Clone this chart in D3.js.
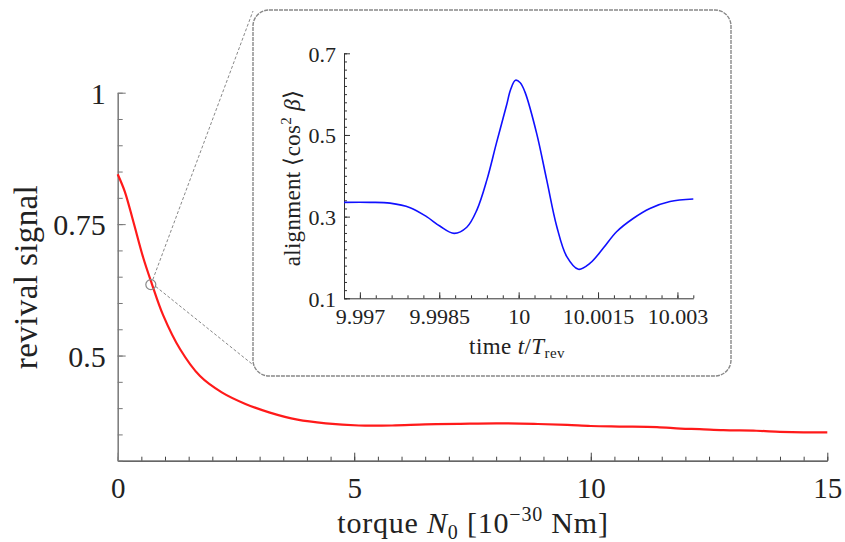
<!DOCTYPE html>
<html><head><meta charset="utf-8">
<script src="https://cdn.jsdelivr.net/npm/d3@7"></script>
<style>
html,body{margin:0;padding:0;background:#fff;}
text{font-family:"Liberation Serif","Times New Roman",serif;fill:#222;}
</style></head>
<body>
<svg id="c" width="845" height="542"></svg>
<script>
// Main chart data
const torque = [0,0.15,0.33,0.54,0.72,0.96,1.32,1.74,2.2,2.7,3.2,3.8,4.4,5.1,5.8,6.5,7.2,8.0,8.8,9.5,10.0,10.6,11.4,11.9,12.3,12.8,13.5,14.0,14.5,15];
const revival = [0.845,0.812,0.755,0.686,0.637,0.577,0.512,0.461,0.430,0.408,0.392,0.378,0.371,0.367,0.367,0.369,0.370,0.371,0.370,0.368,0.366,0.365,0.364,0.361,0.360,0.358,0.357,0.355,0.354,0.354];
const zoomPoint = [0.7, 0.635];
const mainXTicks = [0,5,10,15];
const mainYTicks = [0.5,0.75,1];
const mainYTickLabels = ["0.5","0.75","1"];

// Inset data
const timeVals = [9.9967,9.9972,9.99757,9.99795,9.99826,9.99851,9.99878,9.99902,9.99921,9.99940,9.99958,9.99977,9.99985,9.99994,10.00003,10.00012,10.00034,10.00053,10.00072,10.00091,10.00113,10.00135,10.0016,10.00185,10.00217,10.00248,10.00286,10.0033];
const alignVals = [0.335,0.335,0.333,0.322,0.300,0.277,0.259,0.274,0.316,0.390,0.480,0.572,0.612,0.634,0.628,0.605,0.504,0.390,0.276,0.202,0.171,0.186,0.223,0.263,0.296,0.320,0.337,0.343];
const insetXTicks = [9.997,9.9985,10,10.0015,10.003];
const insetXTickLabels = ["9.997","9.9985","10","10.0015","10.003"];
const insetYTicks = [0.1,0.3,0.5,0.7];

const svg = d3.select("#c");

// ---------- main chart ----------
const x = d3.scaleLinear([0,15],[117.7,827.3]);
const y = d3.scaleLinear([0.3,1],[460.7,92.7]);

const xMinor = d3.range(0,31).map(i=>i*0.5);
const yMinor = d3.range(0,15).map(i=>+(0.3+i*0.05).toFixed(2));

const gx = svg.append("g").attr("transform","translate(0,460.7)");
gx.call(d3.axisBottom(x).tickValues(xMinor).tickSizeInner(-4).tickSizeOuter(0).tickFormat(""));
gx.selectAll("line").attr("stroke","#444");
gx.select(".domain").attr("stroke","#333").attr("stroke-width",1.3);
const gx2 = svg.append("g").attr("transform","translate(0,460.7)");
gx2.call(d3.axisBottom(x).tickValues(mainXTicks).tickSizeInner(-8).tickSizeOuter(0).tickPadding(18).tickFormat(d3.format("d")));
gx2.select(".domain").remove();
gx2.selectAll("line").attr("stroke","#444");
gx2.selectAll("text").attr("font-size",29).attr("font-family","Liberation Serif").attr("fill","#222").attr("dy","0.68em");

const gy = svg.append("g").attr("transform","translate(117.7,0)");
gy.call(d3.axisLeft(y).tickValues(yMinor).tickSizeInner(-5).tickSizeOuter(0).tickFormat(""));
gy.selectAll("line").attr("stroke","#777");
gy.select(".domain").attr("stroke","#808080").attr("stroke-width",1.6);
const gy2 = svg.append("g").attr("transform","translate(117.7,0)");
gy2.call(d3.axisLeft(y).tickValues(mainYTicks).tickSizeInner(-8).tickSizeOuter(0).tickPadding(12).tickFormat((d,i)=>mainYTickLabels[i]));
gy2.select(".domain").remove();
gy2.selectAll("line").attr("stroke","#777");
gy2.selectAll("text").attr("font-size",30).attr("font-family","Liberation Serif").attr("fill","#222").attr("dy","0.36em");

// red curve
const line = d3.line().x((d,i)=>x(torque[i])).y(d=>y(d)).curve(d3.curveCatmullRom.alpha(0.5));
svg.append("path").attr("d",line(revival)).attr("fill","none").attr("stroke","#ff1a1a").attr("stroke-width",2.2);

// axis titles
const xt = svg.append("text").attr("x",473).attr("y",533).attr("text-anchor","middle").attr("font-size",30).attr("letter-spacing",0.8);
xt.append("tspan").text("torque ");
xt.append("tspan").attr("font-style","italic").text("N");
xt.append("tspan").attr("font-size",20).attr("dy",6).text("0");
xt.append("tspan").attr("dy",-6).text(" [10");
xt.append("tspan").attr("font-size",20).attr("dy",-12).text("−30");
xt.append("tspan").attr("dy",12).text(" Nm]");

svg.append("text").attr("transform","translate(37,277) rotate(-90)").attr("text-anchor","middle").attr("font-size",33).attr("letter-spacing",0.4).text("revival signal");

// ---------- zoom indicator ----------
const box = {x0:253, y0:10, x1:731, y1:376};
const cx = x(zoomPoint[0]), cy = y(zoomPoint[1]);
svg.append("line").attr("x1",cx+2).attr("y1",cy-5).attr("x2",box.x0).attr("y2",box.y0+1)
  .attr("stroke","#888").attr("stroke-width",1).attr("stroke-dasharray","3,2");
svg.append("line").attr("x1",cx+5).attr("y1",cy+2).attr("x2",box.x0+4).attr("y2",box.y1-8)
  .attr("stroke","#888").attr("stroke-width",1).attr("stroke-dasharray","3,2");
svg.append("circle").attr("cx",cx).attr("cy",cy).attr("r",5).attr("fill","none").attr("stroke","#888").attr("stroke-width",1.2);

// inset box
svg.append("rect").attr("x",box.x0).attr("y",box.y0).attr("width",box.x1-box.x0).attr("height",box.y1-box.y0)
  .attr("rx",16).attr("ry",16).attr("fill","#fff").attr("stroke","#888").attr("stroke-width",1.4).attr("stroke-dasharray","4,1");

// ---------- inset ----------
const xi = d3.scaleLinear([9.9967,10.0033],[344,693.3]);
const yi = d3.scaleLinear([0.1,0.7],[298.3,53.3]);
const xiMinor = d3.range(0,23).map(i=>+(9.9967+i*0.0003).toFixed(4));
const yiMinor = d3.range(0,31).map(i=>+(0.1+i*0.02).toFixed(2));

const ix = svg.append("g").attr("transform","translate(0,298.3)");
ix.call(d3.axisBottom(xi).tickValues(xiMinor).tickSizeInner(-3).tickSizeOuter(0).tickFormat(""));
ix.selectAll("line").attr("stroke","#333");
ix.select(".domain").attr("stroke","#333").attr("stroke-width",1);
const ix2 = svg.append("g").attr("transform","translate(0,298.3)");
ix2.call(d3.axisBottom(xi).tickValues(insetXTicks).tickSizeInner(-6).tickSizeOuter(0).tickPadding(10).tickFormat((d,i)=>insetXTickLabels[i]));
ix2.select(".domain").remove();
ix2.selectAll("line").attr("stroke","#333");
ix2.selectAll("text").attr("font-size",22).attr("font-family","Liberation Serif").attr("fill","#222").attr("dy","0.7em");

const iy = svg.append("g").attr("transform","translate(344,0)");
iy.call(d3.axisLeft(yi).tickValues(yiMinor).tickSizeInner(-3).tickSizeOuter(0).tickFormat(""));
iy.selectAll("line").attr("stroke","#333");
iy.select(".domain").attr("stroke","#333").attr("stroke-width",1);
const iy2 = svg.append("g").attr("transform","translate(344,0)");
iy2.call(d3.axisLeft(yi).tickValues(insetYTicks).tickSizeInner(-6).tickSizeOuter(0).tickPadding(8).tickFormat(d3.format(".1f")));
iy2.select(".domain").remove();
iy2.selectAll("line").attr("stroke","#333");
iy2.selectAll("text").attr("font-size",22).attr("font-family","Liberation Serif").attr("fill","#222").attr("dy","0.36em");

const lineI = d3.line().x((d,i)=>xi(timeVals[i])).y(d=>yi(d)).curve(d3.curveCatmullRom.alpha(0.5));
svg.append("path").attr("d",lineI(alignVals)).attr("fill","none").attr("stroke","#1010ff").attr("stroke-width",1.6);

const ixt = svg.append("text").attr("x",517).attr("y",354).attr("text-anchor","middle").attr("font-size",23).attr("letter-spacing",0.4);
ixt.append("tspan").text("time ");
ixt.append("tspan").attr("font-style","italic").text("t");
ixt.append("tspan").text("/");
ixt.append("tspan").attr("font-style","italic").text("T");
ixt.append("tspan").attr("font-size",15).attr("dy",4).text("rev");

const iyt = svg.append("text").attr("transform","translate(300,178) rotate(-90)").attr("text-anchor","middle").attr("font-size",23).attr("letter-spacing",0.3);
iyt.append("tspan").text("alignment ⟨cos");
iyt.append("tspan").attr("font-size",15).attr("dy",-9).text("2");
iyt.append("tspan").attr("dy",9).text(" ");
iyt.append("tspan").attr("font-style","italic").text("β");
iyt.append("tspan").text("⟩");
</script>
</body></html>
